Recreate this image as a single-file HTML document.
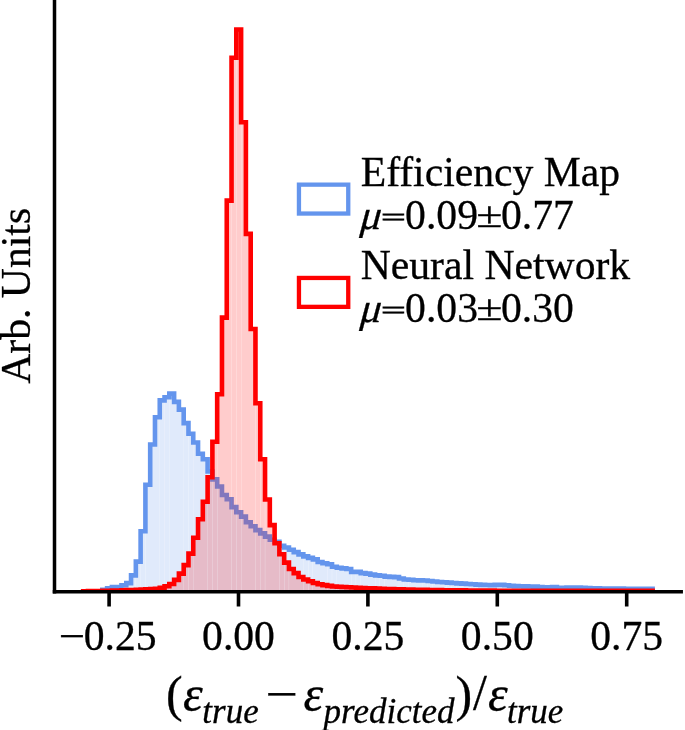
<!DOCTYPE html>
<html lang="en"><head><meta charset="utf-8"><title>Relative efficiency error histogram</title>
<style>html,body{margin:0;padding:0;background:#fff}svg{display:block}</style></head>
<body>
<svg width="685" height="730" viewBox="0 0 685 730">
<defs><clipPath id="ax"><rect x="54.5" y="0" width="628.5" height="591.85"/></clipPath></defs>
<rect width="685" height="730" fill="#fff"/>
<g clip-path="url(#ax)">
<g fill="#6495ed" fill-opacity="0.2"><path d="M83.20 591.85V591.60H87.89V591.85Z"/><path d="M88.08 591.85V591.60H92.67V591.85Z"/><path d="M92.87 591.85V591.60H97.46V591.85Z"/><path d="M97.66 591.85V591.50H102.34V589.70H107.12V588.40H111.81V591.85Z"/><path d="M112.01 591.85V587.10H116.60V591.85Z"/><path d="M116.80 591.85V587.10H121.38V591.85Z"/><path d="M121.58 591.85V585.30H126.27V583.10H131.05V575.40H135.74V591.85Z"/><path d="M135.94 591.85V561.60H140.52V591.85Z"/><path d="M140.72 591.85V531.20H145.31V591.85Z"/><path d="M145.50 591.85V484.80H150.19V444.50H154.98V417.20H159.66V591.85Z"/><path d="M159.86 591.85V400.40H164.45V591.85Z"/><path d="M164.65 591.85V397.20H169.23V591.85Z"/><path d="M169.43 591.85V393.60H174.12V401.90H178.90V409.60H183.59V591.85Z"/><path d="M183.78 591.85V423.10H188.37V591.85Z"/><path d="M188.57 591.85V433.70H193.16V591.85Z"/><path d="M193.35 591.85V442.50H198.04V453.70H202.82V459.30H207.51V591.85Z"/><path d="M207.71 591.85V471.50H212.29V591.85Z"/><path d="M212.49 591.85V479.40H217.08V591.85Z"/><path d="M217.28 591.85V486.50H221.97V495.00H226.75V499.30H231.44V591.85Z"/><path d="M231.64 591.85V507.10H236.22V591.85Z"/><path d="M236.42 591.85V512.30H241.01V591.85Z"/><path d="M241.21 591.85V516.60H245.89V522.20H250.68V526.30H255.36V591.85Z"/><path d="M255.56 591.85V530.10H260.14V591.85Z"/><path d="M260.35 591.85V533.40H264.93V591.85Z"/><path d="M265.13 591.85V536.60H269.81V539.70H274.60V541.70H279.28V591.85Z"/><path d="M279.49 591.85V545.80H284.07V591.85Z"/><path d="M284.27 591.85V547.50H288.85V591.85Z"/><path d="M289.06 591.85V549.80H293.74V552.10H298.53V554.40H303.21V591.85Z"/><path d="M303.41 591.85V556.40H308.00V591.85Z"/><path d="M308.20 591.85V557.90H312.78V591.85Z"/><path d="M312.98 591.85V559.40H317.67V562.00H322.45V563.20H327.13V591.85Z"/><path d="M327.34 591.85V564.30H331.92V591.85Z"/><path d="M332.12 591.85V566.70H336.70V591.85Z"/><path d="M336.91 591.85V567.80H341.59V568.40H346.38V569.00H351.06V591.85Z"/><path d="M351.26 591.85V571.90H355.84V591.85Z"/><path d="M356.05 591.85V571.90H360.63V591.85Z"/><path d="M360.83 591.85V573.10H365.51V573.65H370.30V574.60H374.98V591.85Z"/><path d="M375.19 591.85V575.40H379.77V591.85Z"/><path d="M379.97 591.85V575.75H384.55V591.85Z"/><path d="M384.75 591.85V576.60H389.44V576.90H394.23V577.15H398.91V591.85Z"/><path d="M399.11 591.85V578.55H403.69V591.85Z"/><path d="M403.90 591.85V579.50H408.48V591.85Z"/><path d="M408.68 591.85V579.80H413.37V580.20H418.15V580.38H422.83V591.85Z"/><path d="M423.04 591.85V580.55H427.62V591.85Z"/><path d="M427.82 591.85V580.98H432.40V591.85Z"/><path d="M432.61 591.85V581.51H437.29V581.99H442.07V582.32H446.76V591.85Z"/><path d="M446.96 591.85V582.65H451.54V591.85Z"/><path d="M451.75 591.85V582.99H456.33V591.85Z"/><path d="M456.53 591.85V583.34H461.21V583.67H466.00V583.98H470.69V591.85Z"/><path d="M470.89 591.85V584.29H475.47V591.85Z"/><path d="M475.67 591.85V584.58H480.25V591.85Z"/><path d="M480.46 591.85V584.86H485.14V585.04H489.93V585.08H494.61V591.85Z"/><path d="M494.81 591.85V584.84H499.39V591.85Z"/><path d="M499.60 591.85V584.87H504.18V591.85Z"/><path d="M504.38 591.85V585.28H509.06V585.70H513.85V586.11H518.53V591.85Z"/><path d="M518.74 591.85V586.24H523.32V591.85Z"/><path d="M523.52 591.85V586.37H528.11V591.85Z"/><path d="M528.31 591.85V586.50H532.99V586.63H537.77V587.13H542.46V591.85Z"/><path d="M542.66 591.85V587.58H547.25V591.85Z"/><path d="M547.45 591.85V587.27H552.03V591.85Z"/><path d="M552.23 591.85V587.07H556.92V587.68H561.70V587.79H566.38V591.85Z"/><path d="M566.59 591.85V587.62H571.17V591.85Z"/><path d="M571.37 591.85V587.45H575.96V591.85Z"/><path d="M576.16 591.85V587.56H580.84V587.77H585.62V587.99H590.31V591.85Z"/><path d="M590.51 591.85V588.21H595.10V591.85Z"/><path d="M595.30 591.85V588.41H599.88V591.85Z"/><path d="M600.08 591.85V588.46H604.77V588.51H609.55V588.56H614.24V591.85Z"/><path d="M614.44 591.85V588.61H619.02V591.85Z"/><path d="M619.22 591.85V588.66H623.81V591.85Z"/><path d="M624.01 591.85V588.70H628.69V588.70H633.48V588.70H638.16V591.85Z"/><path d="M638.36 591.85V588.70H642.95V591.85Z"/><path d="M643.15 591.85V588.70H647.73V591.85Z"/><path d="M647.93 591.85V588.70H652.62V591.85Z"/></g>
<path d="M83.20 591.85V591.60H87.98V591.60H92.77V591.60H97.56V591.50H102.34V589.70H107.12V588.40H111.91V587.10H116.70V587.10H121.48V585.30H126.27V583.10H131.05V575.40H135.84V561.60H140.62V531.20H145.41V484.80H150.19V444.50H154.98V417.20H159.76V400.40H164.55V397.20H169.33V393.60H174.12V401.90H178.90V409.60H183.69V423.10H188.47V433.70H193.25V442.50H198.04V453.70H202.82V459.30H207.61V471.50H212.39V479.40H217.18V486.50H221.97V495.00H226.75V499.30H231.54V507.10H236.32V512.30H241.11V516.60H245.89V522.20H250.68V526.30H255.46V530.10H260.25V533.40H265.03V536.60H269.81V539.70H274.60V541.70H279.38V545.80H284.17V547.50H288.95V549.80H293.74V552.10H298.53V554.40H303.31V556.40H308.10V557.90H312.88V559.40H317.67V562.00H322.45V563.20H327.24V564.30H332.02V566.70H336.81V567.80H341.59V568.40H346.38V569.00H351.16V571.90H355.94V571.90H360.73V573.10H365.51V573.65H370.30V574.60H375.08V575.40H379.87V575.75H384.65V576.60H389.44V576.90H394.23V577.15H399.01V578.55H403.80V579.50H408.58V579.80H413.37V580.20H418.15V580.38H422.94V580.55H427.72V580.98H432.50V581.51H437.29V581.99H442.07V582.32H446.86V582.65H451.64V582.99H456.43V583.34H461.21V583.67H466.00V583.98H470.79V584.29H475.57V584.58H480.36V584.86H485.14V585.04H489.93V585.08H494.71V584.84H499.50V584.87H504.28V585.28H509.06V585.70H513.85V586.11H518.63V586.24H523.42V586.37H528.21V586.50H532.99V586.63H537.77V587.13H542.56V587.58H547.35V587.27H552.13V587.07H556.92V587.68H561.70V587.79H566.49V587.62H571.27V587.45H576.06V587.56H580.84V587.77H585.62V587.99H590.41V588.21H595.20V588.41H599.98V588.46H604.77V588.51H609.55V588.56H614.34V588.61H619.12V588.66H623.91V588.70H628.69V588.70H633.48V588.70H638.26V588.70H643.05V588.70H647.83V588.70H652.62V591.85" fill="none" stroke="#6495ed" stroke-width="4.6" stroke-linejoin="miter"/>
<g fill="#ff0000" fill-opacity="0.2"><path d="M83.20 591.85V591.20H87.89V591.85Z"/><path d="M88.08 591.85V591.13H92.67V591.85Z"/><path d="M92.87 591.85V591.07H97.46V591.85Z"/><path d="M97.66 591.85V591.00H102.34V590.86H107.12V590.72H111.81V591.85Z"/><path d="M112.01 591.85V590.58H116.60V591.85Z"/><path d="M116.80 591.85V590.44H121.38V591.85Z"/><path d="M121.58 591.85V590.30H126.27V590.12H131.05V589.95H135.74V591.85Z"/><path d="M135.94 591.85V589.77H140.52V591.85Z"/><path d="M140.72 591.85V589.60H145.31V591.85Z"/><path d="M145.50 591.85V589.30H150.19V589.00H154.98V588.80H159.66V591.85Z"/><path d="M159.86 591.85V587.80H164.45V591.85Z"/><path d="M164.65 591.85V586.30H169.23V591.85Z"/><path d="M169.43 591.85V584.00H174.12V579.90H178.90V573.60H183.59V591.85Z"/><path d="M183.78 591.85V565.10H188.37V591.85Z"/><path d="M188.57 591.85V553.60H193.16V591.85Z"/><path d="M193.35 591.85V537.80H198.04V519.20H202.82V501.70H207.51V591.85Z"/><path d="M207.71 591.85V477.20H212.29V591.85Z"/><path d="M212.49 591.85V441.80H217.08V591.85Z"/><path d="M217.28 591.85V394.30H221.97V317.60H226.75V200.60H231.44V591.85Z"/><path d="M231.64 591.85V57.80H236.22V591.85Z"/><path d="M236.42 591.85V29.50H241.01V591.85Z"/><path d="M241.21 591.85V122.30H245.89V233.90H250.68V329.00H255.36V591.85Z"/><path d="M255.56 591.85V403.20H260.14V591.85Z"/><path d="M260.35 591.85V459.20H264.93V591.85Z"/><path d="M265.13 591.85V499.50H269.81V525.10H274.60V543.30H279.28V591.85Z"/><path d="M279.49 591.85V554.20H284.07V591.85Z"/><path d="M284.27 591.85V562.60H288.85V591.85Z"/><path d="M289.06 591.85V569.00H293.74V573.10H298.53V577.00H303.21V591.85Z"/><path d="M303.41 591.85V579.50H308.00V591.85Z"/><path d="M308.20 591.85V581.30H312.78V591.85Z"/><path d="M312.98 591.85V583.00H317.67V584.20H322.45V585.10H327.13V591.85Z"/><path d="M327.34 591.85V585.90H331.92V591.85Z"/><path d="M332.12 591.85V586.50H336.70V591.85Z"/><path d="M336.91 591.85V586.80H341.59V587.00H346.38V587.30H351.06V591.85Z"/><path d="M351.26 591.85V587.53H355.84V591.85Z"/><path d="M356.05 591.85V587.77H360.63V591.85Z"/><path d="M360.83 591.85V587.99H365.51V588.19H370.30V588.39H374.98V591.85Z"/><path d="M375.19 591.85V588.60H379.77V591.85Z"/><path d="M379.97 591.85V588.80H384.55V591.85Z"/><path d="M384.75 591.85V589.00H389.44V589.12H394.23V589.24H398.91V591.85Z"/><path d="M399.11 591.85V589.36H403.69V591.85Z"/><path d="M403.90 591.85V589.48H408.48V591.85Z"/><path d="M408.68 591.85V589.60H413.37V589.71H418.15V589.79H422.83V591.85Z"/><path d="M423.04 591.85V589.87H427.62V591.85Z"/><path d="M427.82 591.85V589.95H432.40V591.85Z"/><path d="M432.61 591.85V590.03H437.29V590.11H442.07V590.19H446.76V591.85Z"/><path d="M446.96 591.85V590.24H451.54V591.85Z"/><path d="M451.75 591.85V590.29H456.33V591.85Z"/><path d="M456.53 591.85V590.34H461.21V590.39H466.00V590.43H470.69V591.85Z"/><path d="M470.89 591.85V590.48H475.47V591.85Z"/><path d="M475.67 591.85V590.53H480.25V591.85Z"/><path d="M480.46 591.85V590.58H485.14V590.63H489.93V590.67H494.61V591.85Z"/><path d="M494.81 591.85V590.70H499.39V591.85Z"/><path d="M499.60 591.85V590.70H504.18V591.85Z"/><path d="M504.38 591.85V590.71H509.06V590.71H513.85V590.71H518.53V591.85Z"/><path d="M518.74 591.85V590.72H523.32V591.85Z"/><path d="M523.52 591.85V590.72H528.11V591.85Z"/><path d="M528.31 591.85V590.72H532.99V590.73H537.77V590.73H542.46V591.85Z"/><path d="M542.66 591.85V590.73H547.25V591.85Z"/><path d="M547.45 591.85V590.73H552.03V591.85Z"/><path d="M552.23 591.85V590.74H556.92V590.74H561.70V590.74H566.38V591.85Z"/><path d="M566.59 591.85V590.75H571.17V591.85Z"/><path d="M571.37 591.85V590.75H575.96V591.85Z"/><path d="M576.16 591.85V590.75H580.84V590.76H585.62V590.76H590.31V591.85Z"/><path d="M590.51 591.85V590.76H595.10V591.85Z"/><path d="M595.30 591.85V590.76H599.88V591.85Z"/><path d="M600.08 591.85V590.77H604.77V590.77H609.55V590.77H614.24V591.85Z"/><path d="M614.44 591.85V590.78H619.02V591.85Z"/><path d="M619.22 591.85V590.78H623.81V591.85Z"/><path d="M624.01 591.85V590.78H628.69V590.79H633.48V590.79H638.16V591.85Z"/><path d="M638.36 591.85V590.79H642.95V591.85Z"/><path d="M643.15 591.85V590.79H647.73V591.85Z"/><path d="M647.93 591.85V590.80H652.62V591.85Z"/></g>
<path d="M83.20 591.85V591.20H87.98V591.13H92.77V591.07H97.56V591.00H102.34V590.86H107.12V590.72H111.91V590.58H116.70V590.44H121.48V590.30H126.27V590.12H131.05V589.95H135.84V589.77H140.62V589.60H145.41V589.30H150.19V589.00H154.98V588.80H159.76V587.80H164.55V586.30H169.33V584.00H174.12V579.90H178.90V573.60H183.69V565.10H188.47V553.60H193.25V537.80H198.04V519.20H202.82V501.70H207.61V477.20H212.39V441.80H217.18V394.30H221.97V317.60H226.75V200.60H231.54V57.80H236.32V29.50H241.11V122.30H245.89V233.90H250.68V329.00H255.46V403.20H260.25V459.20H265.03V499.50H269.81V525.10H274.60V543.30H279.38V554.20H284.17V562.60H288.95V569.00H293.74V573.10H298.53V577.00H303.31V579.50H308.10V581.30H312.88V583.00H317.67V584.20H322.45V585.10H327.24V585.90H332.02V586.50H336.81V586.80H341.59V587.00H346.38V587.30H351.16V587.53H355.94V587.77H360.73V587.99H365.51V588.19H370.30V588.39H375.08V588.60H379.87V588.80H384.65V589.00H389.44V589.12H394.23V589.24H399.01V589.36H403.80V589.48H408.58V589.60H413.37V589.71H418.15V589.79H422.94V589.87H427.72V589.95H432.50V590.03H437.29V590.11H442.07V590.19H446.86V590.24H451.64V590.29H456.43V590.34H461.21V590.39H466.00V590.43H470.79V590.48H475.57V590.53H480.36V590.58H485.14V590.63H489.93V590.67H494.71V590.70H499.50V590.70H504.28V590.71H509.06V590.71H513.85V590.71H518.63V590.72H523.42V590.72H528.21V590.72H532.99V590.73H537.77V590.73H542.56V590.73H547.35V590.73H552.13V590.74H556.92V590.74H561.70V590.74H566.49V590.75H571.27V590.75H576.06V590.75H580.84V590.76H585.62V590.76H590.41V590.76H595.20V590.76H599.98V590.77H604.77V590.77H609.55V590.77H614.34V590.78H619.12V590.78H623.91V590.78H628.69V590.79H633.48V590.79H638.26V590.79H643.05V590.79H647.83V590.80H652.62V591.85" fill="none" stroke="#ff0000" stroke-width="4.6" stroke-linejoin="miter"/>
</g>
<g stroke="#000" stroke-width="3.5" fill="none" stroke-linecap="square">
<path d="M54.5 0V591.85"/>
<path d="M54.5 591.85H681.2"/>
</g>
<g stroke="#000" stroke-width="3.6" fill="none">
<path d="M109.10 591.85V606.5"/>
<path d="M238.50 591.85V606.5"/>
<path d="M367.90 591.85V606.5"/>
<path d="M497.30 591.85V606.5"/>
<path d="M626.70 591.85V606.5"/>
</g>
<g font-family="'Liberation Serif', serif" font-size="41.67" fill="#000" stroke="#000" stroke-width="0.3" text-anchor="middle">
<text transform="translate(58.85 650.2) scale(1.123 1)" text-anchor="start">−</text>
<text x="83.7" y="650.2" text-anchor="start">0.25</text>
<text x="238.50" y="650.2">0.00</text>
<text x="367.90" y="650.2">0.25</text>
<text x="497.30" y="650.2">0.50</text>
<text x="626.70" y="650.2">0.75</text>
</g>
<text transform="translate(29.6 295.8) rotate(-90)" font-family="'Liberation Serif', serif" font-size="41.67" text-anchor="middle" stroke="#000" stroke-width="0.3">Arb. Units</text>
<rect x="298.95" y="184.65" width="49.3" height="28.9" fill="none" stroke="#6495ed" stroke-width="4.3"/>
<rect x="298.95" y="277.95" width="49.3" height="28.9" fill="none" stroke="#ff0000" stroke-width="4.3"/>
<g font-family="'Liberation Serif', serif" font-size="41.67" fill="#000" stroke="#000" stroke-width="0.3">
<text x="360.7" y="186.2">Efficiency Map</text>
<text transform="translate(359.7 229.4) skewX(-5)" font-style="italic">μ</text>
<text transform="translate(393.5 224.80) scale(1.033 0.53)" text-anchor="middle" stroke-width="1.59">=</text>
<text x="405.12" y="229.4">0.09</text>
<text transform="translate(489.45 227.40) scale(1.15 0.87)" text-anchor="middle">±</text>
<text x="500.92" y="229.4">0.77</text>
<text x="360.7" y="279.2">Neural Network</text>
<text transform="translate(359.7 322.2) skewX(-5)" font-style="italic">μ</text>
<text transform="translate(393.5 317.60) scale(1.033 0.53)" text-anchor="middle" stroke-width="1.59">=</text>
<text x="405.12" y="322.2">0.03</text>
<text transform="translate(489.45 320.20) scale(1.15 0.87)" text-anchor="middle">±</text>
<text x="500.92" y="322.2">0.30</text>
</g>
<g font-family="'Liberation Serif', serif" fill="#000" stroke="#000" stroke-width="0.3">
<text x="166.05" y="710.8" font-size="50">(</text>
<text x="182.9" y="710.8" font-size="50" font-style="italic">ε</text>
<text x="202.3" y="722.5" font-size="35" font-style="italic">true</text>
<text transform="translate(265.2 710.8) scale(1.152 1)" font-size="50">−</text>
<text x="303.6" y="710.8" font-size="50" font-style="italic">ε</text>
<text x="323.6" y="722.5" font-size="35" font-style="italic">predicted</text>
<text x="455.6" y="710.8" font-size="50">)</text>
<text x="473.0" y="708.8" font-size="50">/</text>
<text x="487.9" y="710.8" font-size="50" font-style="italic">ε</text>
<text x="507.0" y="722.5" font-size="35" font-style="italic">true</text>
</g>
</svg>
</body></html>
